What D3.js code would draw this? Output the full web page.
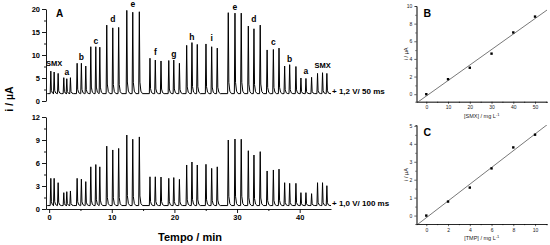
<!DOCTYPE html>
<html>
<head>
<meta charset="utf-8">
<script src="https://cdn.jsdelivr.net/npm/d3@7"></script>
<style>
    body { margin: 0; background: #fff; }
    svg { display: block; font-family: 'Liberation Sans', Arial, sans-serif; }
    .axis path, .axis line { stroke: #000; stroke-width: 0.9; }
    .axis text { font-size: 7.5px; font-weight: bold; fill: #000; }
    .small-axis path, .small-axis line { stroke: #000; stroke-width: 0.6; }
    .small-axis text { font-size: 5px; fill: #222; }
    .bold { font-weight: bold; }
</style>
</head>
<body>
<div id="chart"></div>
<script>
// injection times (min), one per peak, 16 groups of 3
const peakTimes = [
    0.27, 0.8, 1.44, 2.34, 2.82, 3.4, 4.47, 5.15, 5.85, 6.65, 7.45, 8.09,
    9.2, 10.16, 11.1, 12.4, 13.35, 14.4, 16.1, 16.95, 17.86, 19.1, 19.9, 20.8,
    21.96, 22.8, 23.65, 25.04, 25.95, 26.84, 28.6, 29.67, 30.67, 31.8, 32.7, 33.7,
    34.8, 35.8, 36.7, 37.6, 38.4, 39.4, 40.2, 41.0, 41.9, 42.85, 43.65, 44.34
]
// peak current (uA) at +1.2 V / 50 ms
const peaksTop = [
    6.5, 6.3, 6.0, 5.07, 4.85, 5.07, 8.2, 8.2, 7.6, 11.8, 11.8, 11.7,
    16.5, 15.9, 16.0, 19.7, 19.3, 19.4, 9.3, 8.9, 8.7, 8.8, 8.9, 8.2,
    12.1, 12.7, 12.3, 12.4, 11.8, 11.5, 19.2, 19.1, 19.1, 16.3, 15.7, 16.5,
    11.1, 11.2, 11.5, 7.6, 7.9, 7.5, 5.0, 4.9, 5.15, 6.0, 6.15, 6.0
]
// peak current (uA) at +1.0 V / 100 ms
const peaksBottom = [
    4.0, 4.0, 3.43, 2.13, 2.26, 2.35, 4.0, 3.9, 3.57, 5.5, 5.8, 5.5,
    8.2, 7.7, 7.9, 9.65, 9.1, 9.4, 4.2, 4.2, 4.17, 4.0, 4.1, 3.87,
    5.74, 6.13, 5.74, 5.83, 5.3, 5.5, 9.0, 9.13, 9.1, 7.6, 7.04, 7.48,
    4.96, 5.09, 5.2, 3.43, 3.35, 3.35, 2.13, 2.13, 2.0, 3.43, 3.43, 3.04
]
const groupLabels = ['SMX', 'a', 'b', 'c', 'd', 'e', 'f', 'g', 'h', 'i', 'e', 'd', 'c', 'b', 'a', 'SMX']
const baselineTop = 1.6
const baselineBottom = 0.45

const timeTicks = [0, 10, 20, 30, 40]
const timeMinorTicks = [5, 15, 25, 35]
const topTicks = [0, 5, 10, 15, 20]
const topMinorTicks = [2.5, 7.5, 12.5, 17.5]
const bottomTicks = [0, 3, 6, 9, 12]
const bottomMinorTicks = [1.5, 4.5, 7.5, 10.5]

// calibration data
const smxConc = [0, 10, 20, 30, 40, 50]
const smxCurrent = [0, 1.7, 3.0, 4.6, 7.0, 8.8]
const smxXTicks = [0, 10, 20, 30, 40, 50]
const smxYTicks = [0, 2, 4, 6, 8, 10]
const tmpConc = [0, 2, 4, 6, 8, 10]
const tmpCurrent = [0, 0.78, 1.56, 2.63, 3.8, 4.51]
const tmpXTicks = [0, 2, 4, 6, 8, 10]
const tmpYTicks = [0, 1, 2, 3, 4, 5]

const svg = d3.select('#chart').append('svg')
    .attr('width', 550)
    .attr('height', 245)

const xTime = d3.scaleLinear().domain([-0.5, 45]).range([46, 331])
const intFmt = d3.format('d')

class Amperogram {
    constructor(_config) {
        this.config = _config
        this.initVis()
    }

    initVis() {
        let vis = this
        let c = vis.config

        vis.y = d3.scaleLinear().domain(c.yDomain).range(c.yRange)

        // minor ticks first, majors on top
        svg.append('g')
            .attr('class', 'axis')
            .attr('transform', `translate(${xTime.range()[0]},0)`)
            .call(d3.axisLeft(vis.y).tickValues(c.minorTicks).tickSize(2).tickFormat(''))
            .call(g => g.select('.domain').remove())
        svg.append('g')
            .attr('class', 'axis')
            .attr('transform', `translate(${xTime.range()[0]},0)`)
            .call(d3.axisLeft(vis.y).tickValues(c.ticks).tickSize(4).tickSizeOuter(0).tickPadding(2).tickFormat(intFmt))

        if (c.showTimeAxis) {
            svg.append('g')
                .attr('class', 'axis')
                .attr('transform', `translate(0,${vis.y(0)})`)
                .call(d3.axisBottom(xTime).tickValues(timeMinorTicks).tickSize(2).tickFormat(''))
                .call(g => g.select('.domain').remove())
            svg.append('g')
                .attr('class', 'axis')
                .attr('transform', `translate(0,${vis.y(0)})`)
                .call(d3.axisBottom(xTime).tickValues(timeTicks).tickSize(4).tickSizeOuter(0).tickPadding(2).tickFormat(intFmt))
        }

        vis.renderVis()
    }

    renderVis() {
        let vis = this
        let c = vis.config
        let base = c.baseline

        // sharp rise, fast tail back to baseline
        let trace = [[-0.3, base]]
        c.peaks.forEach((h, i) => {
            let t = peakTimes[i]
            trace.push([t - 0.1, base])
            trace.push([t, h])
            trace.push([t + 0.09, base + (h - base) * 0.14])
            trace.push([t + 0.25, base + (h - base) * 0.03])
            trace.push([t + 0.5, base])
        })
        trace.push([45, base])

        svg.append('path')
            .datum(trace)
            .attr('fill', 'none')
            .attr('stroke', '#000')
            .attr('stroke-width', 1)
            .attr('stroke-linejoin', 'round')
            .attr('d', d3.line().x(d => xTime(d[0])).y(d => vis.y(d[1])))

        if (c.labels) {
            c.labels.forEach((lab, g) => {
                let grp = c.peaks.slice(g * 3, g * 3 + 3)
                svg.append('text')
                    .attr('class', 'bold')
                    .attr('x', xTime(peakTimes[g * 3 + 1]))
                    .attr('y', vis.y(d3.max(grp)) - (lab === 'SMX' ? 5 : 3))
                    .attr('text-anchor', 'middle')
                    .attr('font-size', lab === 'SMX' ? 7.5 : 8.5)
                    .text(lab)
            })
        }

        svg.append('text')
            .attr('class', 'bold')
            .attr('x', 332)
            .attr('y', vis.y(base) + c.noteDy)
            .attr('font-size', 8)
            .text(c.note)
    }
}

class CalibrationPlot {
    constructor(_config) {
        this.config = _config
        this.initVis()
    }

    initVis() {
        let vis = this
        let c = vis.config

        vis.x = d3.scaleLinear().domain(c.xDomain).range([416.5, 547])
        vis.y = d3.scaleLinear().domain(c.yDomain).range(c.yRange)
        let x0 = vis.x.range()[0]
        let y0 = vis.y.range()[0]

        let xStep = c.xTicks[1] - c.xTicks[0]
        let yStep = c.yTicks[1] - c.yTicks[0]
        let xMinor = c.xTicks.map(d => d + xStep / 2).filter(d => d < c.xDomain[1])
        let yMinor = c.yTicks.map(d => d + yStep / 2).filter(d => d < c.yDomain[1])

        svg.append('g')
            .attr('class', 'small-axis')
            .attr('transform', `translate(0,${y0})`)
            .call(d3.axisBottom(vis.x).tickValues(xMinor).tickSize(1.2).tickFormat(''))
        svg.append('g')
            .attr('class', 'small-axis')
            .attr('transform', `translate(0,${y0})`)
            .call(d3.axisBottom(vis.x).tickValues(c.xTicks).tickSize(2.2).tickSizeOuter(0).tickPadding(2).tickFormat(intFmt))
        svg.append('g')
            .attr('class', 'small-axis')
            .attr('transform', `translate(${x0},0)`)
            .call(d3.axisLeft(vis.y).tickValues(yMinor).tickSize(1.2).tickFormat(''))
        svg.append('g')
            .attr('class', 'small-axis')
            .attr('transform', `translate(${x0},0)`)
            .call(d3.axisLeft(vis.y).tickValues(c.yTicks).tickSize(2.2).tickSizeOuter(0).tickPadding(2).tickFormat(intFmt))

        // least squares line
        let mx = d3.mean(c.xs), my = d3.mean(c.ys)
        let slope = d3.sum(c.xs, (d, i) => (d - mx) * (c.ys[i] - my)) / d3.sum(c.xs, d => (d - mx) ** 2)
        let icpt = my - slope * mx

        svg.append('clipPath')
            .attr('id', 'clip-' + c.panel)
            .append('rect')
            .attr('x', x0).attr('y', vis.y.range()[1])
            .attr('width', vis.x.range()[1] - x0)
            .attr('height', y0 - vis.y.range()[1])

        svg.append('line')
            .attr('clip-path', `url(#clip-${c.panel})`)
            .attr('x1', vis.x(c.xDomain[0])).attr('y1', vis.y(slope * c.xDomain[0] + icpt))
            .attr('x2', vis.x(c.xDomain[1])).attr('y2', vis.y(slope * c.xDomain[1] + icpt))
            .attr('stroke', '#555')
            .attr('stroke-width', 0.8)

        svg.selectAll(null)
            .data(c.xs)
            .join('rect')
            .attr('x', (d, i) => vis.x(d) - 1.2)
            .attr('y', (d, i) => vis.y(c.ys[i]) - 1.2)
            .attr('width', 2.4)
            .attr('height', 2.4)
            .attr('fill', '#000')

        svg.append('text')
            .attr('class', 'bold')
            .attr('x', x0 + 7)
            .attr('y', vis.y.range()[1] + 11)
            .attr('font-size', 10.5)
            .text(c.panel)

        let xl = svg.append('text')
            .attr('x', (x0 + vis.x.range()[1]) / 2)
            .attr('y', y0 + 16)
            .attr('text-anchor', 'middle')
            .attr('font-size', 5.5)
            .attr('fill', '#222')
            .text(c.xLabel)
        xl.append('tspan').attr('dy', -2).attr('font-size', 4).text('-1')

        svg.append('text')
            .attr('transform', `translate(${x0 - 9},${(y0 + vis.y.range()[1]) / 2}) rotate(-90)`)
            .attr('text-anchor', 'middle')
            .attr('font-size', 5.5)
            .attr('fill', '#222')
            .text('i / \u00b5A')
    }
}

new Amperogram({
    yDomain: [0, 20], yRange: [101, 9],
    ticks: topTicks, minorTicks: topMinorTicks,
    peaks: peaksTop, baseline: baselineTop,
    labels: groupLabels,
    note: '+ 1,2 V/ 50 ms', noteDy: 0,
    showTimeAxis: false
})
new Amperogram({
    yDomain: [0, 12], yRange: [209, 117],
    ticks: bottomTicks, minorTicks: bottomMinorTicks,
    peaks: peaksBottom, baseline: baselineBottom,
    note: '+ 1,0 V/ 100 ms', noteDy: 0.5,
    showTimeAxis: true
})

svg.append('text')
    .attr('class', 'bold')
    .attr('x', 56)
    .attr('y', 17)
    .attr('font-size', 10)
    .text('A')

svg.append('text')
    .attr('class', 'bold')
    .attr('x', xTime(22.5))
    .attr('y', 241)
    .attr('text-anchor', 'middle')
    .attr('font-size', 11)
    .text('Tempo / min')

svg.append('text')
    .attr('class', 'bold')
    .attr('transform', 'translate(13,99) rotate(-90)')
    .attr('text-anchor', 'middle')
    .attr('font-size', 10.5)
    .text('i / \u00b5A')

new CalibrationPlot({
    panel: 'B',
    xDomain: [-4.5, 55.5], yDomain: [-0.85, 10], yRange: [101.7, 6],
    xTicks: smxXTicks, yTicks: smxYTicks,
    xs: smxConc, ys: smxCurrent,
    xLabel: '[SMX] / mg L'
})
new CalibrationPlot({
    panel: 'C',
    xDomain: [-0.9, 11.1], yDomain: [-0.47, 5.05], yRange: [224, 125],
    xTicks: tmpXTicks, yTicks: tmpYTicks,
    xs: tmpConc, ys: tmpCurrent,
    xLabel: '[TMP] / mg L'
})
</script>
</body>
</html>
